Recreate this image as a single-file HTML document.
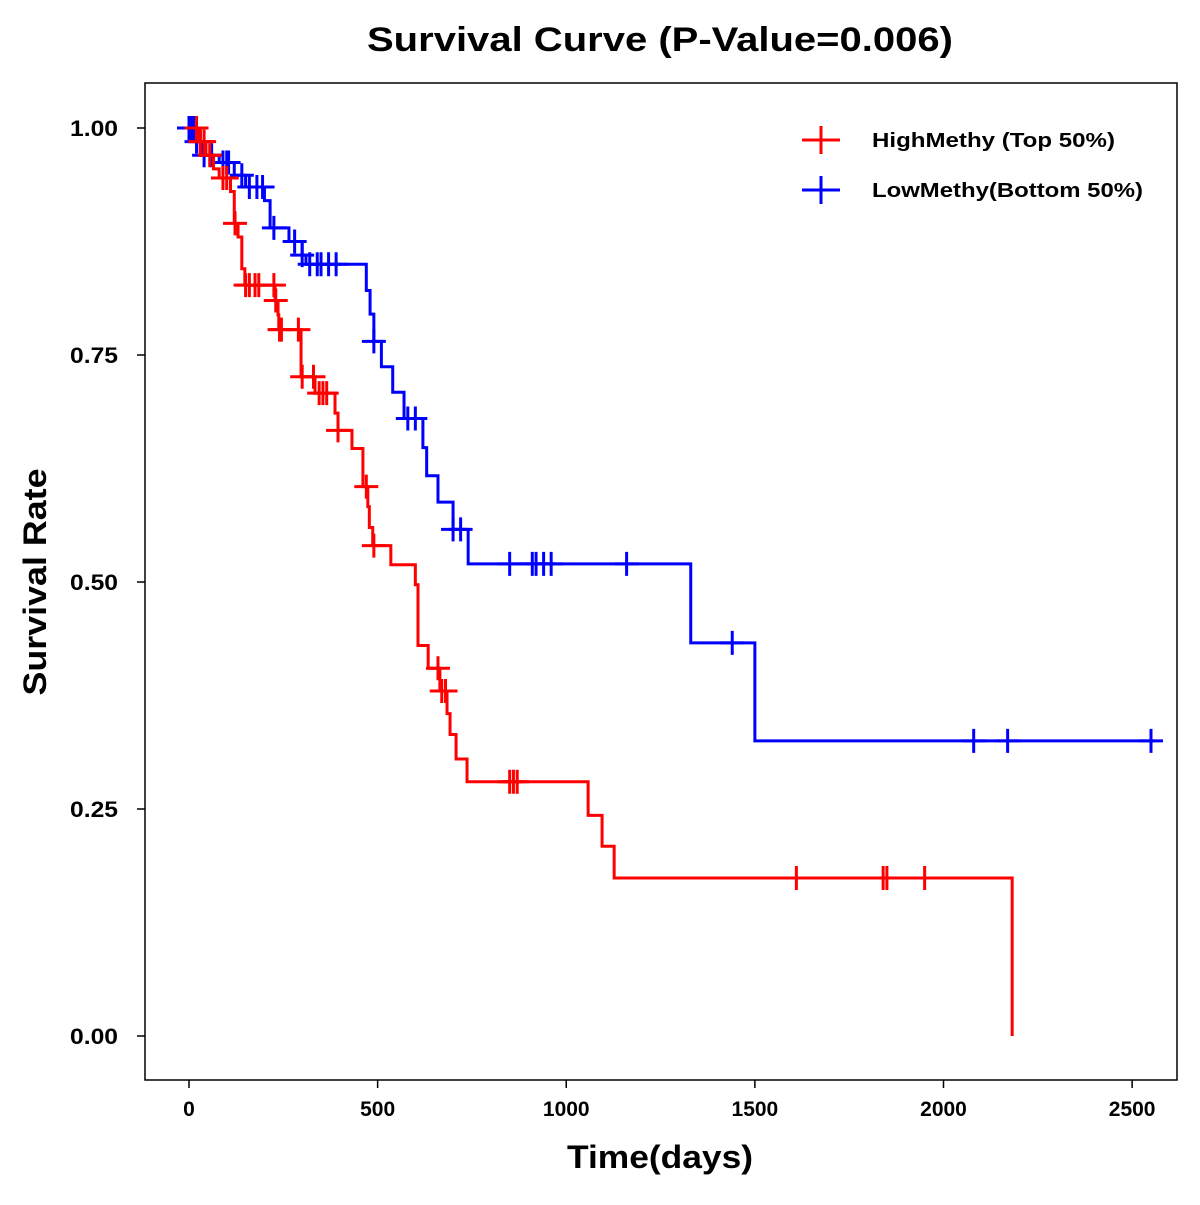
<!DOCTYPE html>
<html><head><meta charset="utf-8"><style>
body{margin:0;background:#fff;}
svg text{font-family:"Liberation Sans",Arial,sans-serif;font-weight:bold;}
</style></head><body>
<svg id="chart" width="1200" height="1200" xmlns="http://www.w3.org/2000/svg">
<rect width="1200" height="1200" fill="#fff"/>
<text x="660" y="51" font-size="34" text-anchor="middle" textLength="586" lengthAdjust="spacingAndGlyphs">Survival Curve (P-Value=0.006)</text>
<rect x="145" y="83" width="1032" height="997" fill="none" stroke="#000" stroke-width="1.5"/>
<g id="axes"></g>
<g id="series"></g>
<text x="660" y="1168" font-size="32" text-anchor="middle" textLength="186" lengthAdjust="spacingAndGlyphs">Time(days)</text>
<text transform="translate(46,582) rotate(-90)" font-size="32" text-anchor="middle" textLength="227" lengthAdjust="spacingAndGlyphs">Survival Rate</text>
<g>
<g>
<line x1="802" y1="140" x2="840" y2="140" stroke="#f00" stroke-width="3"/><line x1="821" y1="126" x2="821" y2="154" stroke="#f00" stroke-width="3"/>
<text x="872" y="147" font-size="20" textLength="243" lengthAdjust="spacingAndGlyphs">HighMethy (Top 50%)</text></g>
<g>
<line x1="802" y1="190" x2="840" y2="190" stroke="#00f" stroke-width="3"/><line x1="821" y1="176" x2="821" y2="204" stroke="#00f" stroke-width="3"/>
<text x="872" y="197" font-size="20" textLength="271" lengthAdjust="spacingAndGlyphs">LowMethy(Bottom 50%)</text></g>
</g>
</svg>
<script>
const xTicks=[0,500,1000,1500,2000,2500];
const yTicks=[0,0.25,0.5,0.75,1.0];
const yTickLabels=["0.00","0.25","0.50","0.75","1.00"];
const highTimes=[0,25,45,65,80,110,120,130,140,148,228,236,238,297,334,387,395,432,461,474,478,487,535,600,607,634,665,684,692,708,737,1058,1095,1127,2182];
const highSurv=[1.0,0.985,0.97,0.955,0.945,0.93,0.895,0.88,0.845,0.827,0.81,0.794,0.778,0.726,0.708,0.686,0.667,0.647,0.605,0.583,0.56,0.54,0.519,0.497,0.43,0.405,0.38,0.355,0.332,0.305,0.28,0.243,0.209,0.174,0.0];
const highEnd=2182;
const highCensor=[20,30,40,55,90,100,122,150,160,175,185,225,230,240,245,290,300,330,345,355,365,395,470,490,660,670,680,850,860,870,1610,1840,1850,1950];
const lowTimes=[0,15,35,80,120,150,200,215,265,300,310,470,480,490,510,540,570,620,630,660,700,740,1330,1500];
const lowSurv=[1.0,0.985,0.97,0.962,0.948,0.935,0.92,0.89,0.875,0.86,0.85,0.821,0.795,0.765,0.737,0.709,0.68,0.648,0.617,0.588,0.558,0.52,0.433,0.325];
const lowEnd=2560;
const lowCensor=[0,5,12,20,30,40,60,90,100,105,140,160,180,195,225,280,300,320,340,350,370,390,490,580,600,700,720,850,910,920,940,960,1160,1440,2080,2170,2550];
const X=t=>189+t*0.37725, Y=s=>1036-s*908;
const NS="http://www.w3.org/2000/svg";
function mk(tag,attrs,parent){const e=document.createElementNS(NS,tag);for(const k in attrs)e.setAttribute(k,attrs[k]);parent.appendChild(e);return e;}
const axes=document.getElementById('axes');
xTicks.forEach(t=>{
  const l=mk('line',{x1:X(t),x2:X(t),y1:1080,y2:1088,stroke:'#000','stroke-width':1.5},axes);
  
  
  const tx=mk('text',{x:X(t),y:1116,'font-size':21,'text-anchor':'middle'},axes);tx.textContent=t;
  
  
});
yTicks.forEach((v,i)=>{
  const l=mk('line',{x1:137,x2:145,y1:Y(v),y2:Y(v),stroke:'#000','stroke-width':1.5},axes);
  
  
  const tx=mk('text',{x:118,y:Y(v)+8,'font-size':22,'text-anchor':'end',textLength:48,lengthAdjust:'spacingAndGlyphs'},axes);tx.textContent=yTickLabels[i];
  
  
});
const ser=document.getElementById('series');
function survAt(times,surv,t){let s=surv[0];for(let i=0;i<times.length;i++){if(times[i]<=t)s=surv[i];}return s;}
function draw(times,surv,end,cens,color,name){
  const g=mk('g',{},ser);
  
  
  let d='M'+X(times[0])+','+Y(surv[0]);
  for(let i=1;i<times.length;i++){d+=' H'+X(times[i])+' V'+Y(surv[i]);}
  d+=' H'+X(Math.max(end,times[times.length-1]));
  const p=mk('path',{d:d,fill:'none',stroke:color,'stroke-width':3},g);
  
  
  cens.forEach(t=>{
    const s=survAt(times,surv,t),cx=X(t),cy=Y(s);
    const c=mk('path',{d:`M${cx-12},${cy}H${cx+12}M${cx},${cy-12}V${cy+12}`,stroke:color,'stroke-width':3,fill:'none'},g);
    
    
  });
}
draw(lowTimes,lowSurv,lowEnd,lowCensor,'#00f','low-methy-series');
draw(highTimes,highSurv,highEnd,highCensor,'#f00','high-methy-series');
</script>
</body></html>
